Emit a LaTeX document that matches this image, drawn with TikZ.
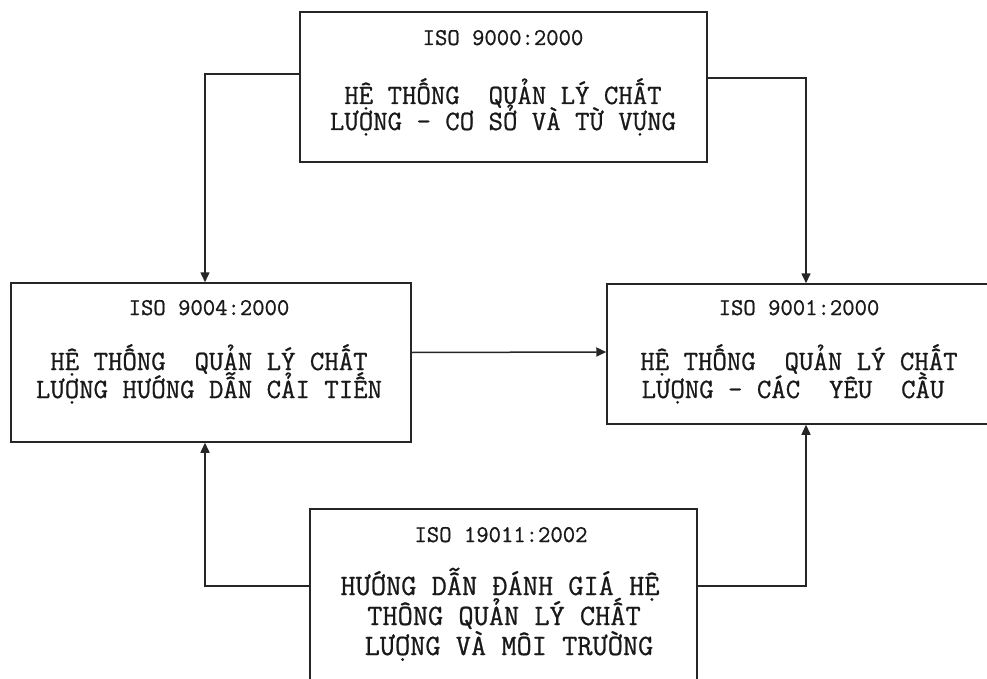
\documentclass[tikz,border=0pt]{standalone}
\usepackage{fontspec}
\newfontfamily\boxfont[FakeBold=0.8]{Latin Modern Mono}
\usetikzlibrary{arrows.meta}
\newcommand\txtiso{\boxfont\fontsize{24}{27}\selectfont}
\newcommand\txtmain{\boxfont\fontsize{28}{27}\selectfont}
\newcommand\txtbig{\boxfont\fontsize{29.5}{30}\selectfont}
\begin{document}
\begin{tikzpicture}[x=1pt,y=-1pt,
  box/.style={draw=black!85, line width=1.5pt, inner sep=0pt, fill=white},
  iso/.style={anchor=base, inner sep=0pt, text=black!90, font=\txtiso},
  txt/.style={anchor=base, inner sep=0pt, text=black!90, font=\txtmain},
  txtb/.style={anchor=base, inner sep=0pt, text=black!90, font=\txtbig},
  conn/.style={draw=black!85, line width=1.5pt, -{Triangle[length=10pt,width=9pt]}}]
\useasboundingbox (0,0) rectangle (987,679);
\clip (0,0) rectangle (987,679);
\fill[white] (0,0) rectangle (987,679);
% boxes
\node[box, minimum width=407pt, minimum height=150pt] (top) at (503.5,87) {};
\node[box, minimum width=400pt, minimum height=159pt] (left) at (211,362.5) {};
\node[box, minimum width=384pt, minimum height=140pt] (right) at (799,354) {};
\node[box, minimum width=387pt, minimum height=191pt] (bottom) at (503.5,604.5) {};
% texts
\node[iso] (t0) at (503,45) {ISO 9000:2000};
\node[txt] (t1) at (503,104) {HỆ THỐNG\ \ QUẢN LÝ CHẤT};
\node[txt] (t2) at (503,130) {LƯỢNG – CƠ SỞ VÀ TỪ VỰNG};
\node[iso] (l0) at (209,315) {ISO 9004:2000};
\node[txt] (l1) at (209,370) {HỆ THỐNG\ \ QUẢN LÝ CHẤT};
\node[txt] (l2) at (209,398) {LƯỢNG HƯỚNG DẪN CẢI TIẾN};
\node[iso] (r0) at (799,315) {ISO 9001:2000};
\node[txt] (r1) at (799,370) {HỆ THỐNG\ \ QUẢN LÝ CHẤT};
\node[txt] (r2) at (793,398) {LƯỢNG – CÁC\ \ YÊU\ \ CẦU};
\node[iso] (b0) at (501,542) {ISO 19011:2002};
\node[txtb] (b1) at (500,595) {HƯỚNG DẪN ĐÁNH GIÁ HỆ};
\node[txtb] (b2) at (504,625) {THÔNG QUẢN LÝ CHẤT};
\node[txtb] (b3) at (509,655) {LƯỢNG VÀ MÔI TRƯỜNG};
% connectors
\draw[conn] ([yshift=13pt]top.west) -| ([xshift=-6pt]left.north);
\draw[conn] ([yshift=9pt]top.east) -| ([xshift=7pt]right.north);
\draw[conn] ([yshift=10pt]left.east) -- ([yshift=2pt]right.west);
\draw[conn] ([yshift=18.5pt]bottom.west) -| ([xshift=-6pt]left.south);
\draw[conn] ([yshift=18.5pt]bottom.east) -| ([xshift=7pt]right.south);
\end{tikzpicture}
\end{document}
